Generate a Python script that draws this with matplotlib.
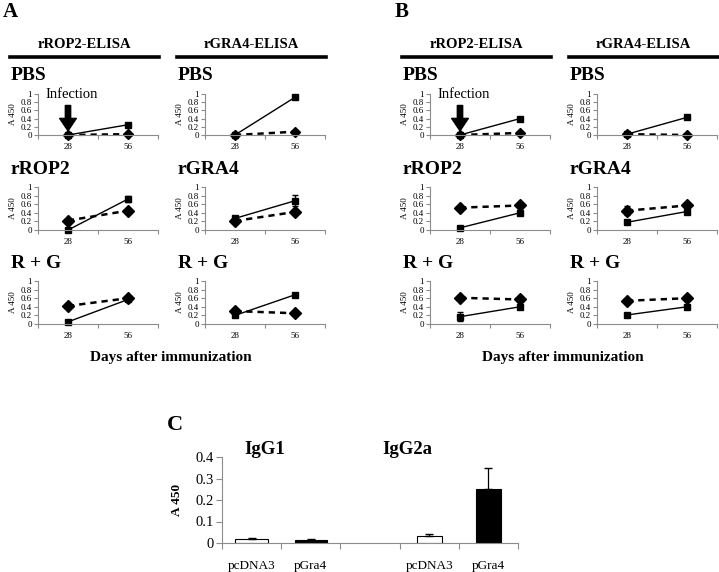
import numpy as np
import matplotlib
matplotlib.use("Agg")
import matplotlib.pyplot as plt
from matplotlib.lines import Line2D

# dados (A 450), linhas = PBS, imunizacao, R + G
days = ["28", "56"]
rows_rop2 = ["PBS", "rROP2", "R + G"]
rows_gra4 = ["PBS", "rGRA4", "R + G"]

# painel A, rROP2-ELISA
a_rop2_sq = [[0.0, 0.25], [0.0, 0.72], [0.05, 0.57]]
a_rop2_sq_err = [[0, 0], [0, 0.07], [0, 0]]
a_rop2_dm = [[0.0, 0.02], [0.22, 0.45], [0.42, 0.60]]
a_rop2_dm_err = [[0, 0], [0, 0], [0, 0]]
# painel A, rGRA4-ELISA
a_gra4_sq = [[0.0, 0.92], [0.27, 0.68], [0.20, 0.68]]
a_gra4_sq_err = [[0, 0], [0, 0.13], [0, 0]]
a_gra4_dm = [[0.0, 0.08], [0.21, 0.42], [0.30, 0.25]]
a_gra4_dm_err = [[0, 0], [0, 0], [0, 0]]
# painel B, rROP2-ELISA
b_rop2_sq = [[0.0, 0.40], [0.05, 0.40], [0.17, 0.40]]
b_rop2_sq_err = [[0, 0], [0, 0], [0.10, 0]]
b_rop2_dm = [[0.0, 0.05], [0.52, 0.57], [0.61, 0.57]]
b_rop2_dm_err = [[0, 0], [0, 0], [0, 0]]
# painel B, rGRA4-ELISA
b_gra4_sq = [[0.02, 0.43], [0.18, 0.43], [0.21, 0.40]]
b_gra4_sq_err = [[0, 0], [0, 0], [0, 0]]
b_gra4_dm = [[0.02, 0.0], [0.45, 0.57], [0.54, 0.60]]
b_gra4_dm_err = [[0, 0], [0.10, 0], [0, 0.07]]

# painel C
c_labels = ["pcDNA3", "pGra4", "", "pcDNA3", "pGra4"]
c_values = [0.020, 0.015, 0.0, 0.033, 0.250]
c_errors = [0.005, 0.003, 0.0, 0.008, 0.100]
c_groups = ["IgG1", "IgG2a"]

W, H = 719, 572
plt.rcParams["font.family"] = ["Liberation Serif", "DejaVu Serif"]
fig = plt.figure(figsize=(W / 100, H / 100), dpi=100)
GRAY = "#8c8c8c"


def fx(x):
    return x / W


def fy(y):
    return 1 - y / H


def add_ax(left, top, right, bottom):
    return fig.add_axes([fx(left), fy(bottom), (right - left) / W, (bottom - top) / H])


def small_panel(ax, sq, sq_err, dm, dm_err, row):
    x = np.array([0.5, 1.5])
    ms_sq = 4 if row == 0 else 5
    ms_dm = 5 if row == 0 else 6.5
    ax.plot(x, dm, color="k", lw=1.8, ls=(0, (2.5, 2)), marker="D", ms=ms_dm)
    ax.plot(x, sq, color="k", lw=1.0, marker="s", ms=ms_sq)
    for xi, yi, ei in zip(x, sq, sq_err):
        if ei > 0:
            ax.errorbar(xi, yi, yerr=ei, fmt="none", ecolor="k", elinewidth=1, capsize=2.5)
    for xi, yi, ei in zip(x, dm, dm_err):
        if ei > 0:
            ax.errorbar(xi, yi, yerr=ei, fmt="none", ecolor="k", elinewidth=1, capsize=2.5)
    ax.set_xlim(0, 2)
    ax.set_ylim(0, 1)
    ax.set_xticks([0, 1, 2])
    ax.set_xticklabels([])
    ax.set_xticks(x, minor=True)
    ax.set_xticklabels(days, minor=True, fontsize=6.5)
    ax.tick_params(axis="x", which="minor", length=0, pad=6)
    ax.tick_params(axis="x", which="major", length=3, color=GRAY, width=0.8)
    ax.set_yticks([0, 0.2, 0.4, 0.6, 0.8, 1.0])
    ax.set_yticklabels(["0", "0.2", "0.4", "0.6", "0.8", "1"], fontsize=6.5)
    ax.tick_params(axis="y", length=3, pad=1.5, color=GRAY, width=0.8)
    ax.set_ylabel("A 450", fontsize=6.5, labelpad=2.5)
    for s in ["top", "right"]:
        ax.spines[s].set_visible(False)
    for s in ["left", "bottom"]:
        ax.spines[s].set_color(GRAY)
        ax.spines[s].set_linewidth(0.8)
    for line in ax.lines:
        line.set_clip_on(False)


rows_px = [(94, 135), (187, 230), (281, 324)]
title_y = [75, 169, 263]

columns = [
    (38, "rROP2-ELISA", rows_rop2, a_rop2_sq, a_rop2_sq_err, a_rop2_dm, a_rop2_dm_err),
    (205, "rGRA4-ELISA", rows_gra4, a_gra4_sq, a_gra4_sq_err, a_gra4_dm, a_gra4_dm_err),
    (430, "rROP2-ELISA", rows_rop2, b_rop2_sq, b_rop2_sq_err, b_rop2_dm, b_rop2_dm_err),
    (597, "rGRA4-ELISA", rows_gra4, b_gra4_sq, b_gra4_sq_err, b_gra4_dm, b_gra4_dm_err),
]

for ci, (left, head, row_names, sq, sq_err, dm, dm_err) in enumerate(columns):
    # cabecalho com linha grossa
    x0, x1 = left - 28, left + 121
    fig.add_artist(Line2D([fx(x0), fx(x1)], [fy(57), fy(57)], color="k", lw=2.6))
    fig.text(fx((x0 + x1) / 2), fy(45), head, ha="center", va="center",
             fontsize=10.5, fontweight="bold")
    for r in range(3):
        top, bottom = rows_px[r]
        ax = add_ax(left, top, left + 120, bottom)
        small_panel(ax, sq[r], sq_err[r], dm[r], dm_err[r], r)
        fig.text(fx(left - 27), fy(title_y[r]), row_names[r], ha="left", va="center",
                 fontsize=14, fontweight="bold")
        if r == 0 and ci in (0, 2):
            ax.text(0.06, 1.0, "Infection", transform=ax.transAxes, ha="left",
                    va="center", fontsize=10.5)
            ax.annotate("", xy=(0.5, 0.1), xytext=(0.5, 0.72),
                        arrowprops=dict(arrowstyle="simple,head_width=1.0,head_length=0.75,tail_width=0.32",
                                        color="k", mutation_scale=12, shrinkA=0, shrinkB=0))

# letras e rotulo do eixo x
fig.text(fx(3), fy(12), "A", ha="left", va="center", fontsize=15, fontweight="bold")
fig.text(fx(395), fy(12), "B", ha="left", va="center", fontsize=15, fontweight="bold")
fig.text(fx(171), fy(358), "Days after immunization", ha="center", va="center",
         fontsize=11, fontweight="bold")
fig.text(fx(563), fy(358), "Days after immunization", ha="center", va="center",
         fontsize=11, fontweight="bold")

# painel C
axc = add_ax(222, 457, 518, 543)
xc = np.arange(len(c_values))
widths = [0.55, 0.55, 0.0, 0.42, 0.42]
colors = ["white", "black", "white", "white", "black"]
for xi, v, e, w, c in zip(xc, c_values, c_errors, widths, colors):
    if w == 0:
        continue
    axc.bar(xi, v, width=w, color=c, edgecolor="k", lw=0.8)
    axc.errorbar(xi, v, yerr=[[0], [e]], fmt="none", ecolor="k", elinewidth=0.9, capsize=3)
axc.set_xlim(-0.5, 4.5)
axc.set_ylim(0, 0.4)
axc.set_xticks(np.arange(-0.5, 5, 1))
axc.set_xticklabels([])
axc.set_xticks(xc, minor=True)
axc.set_xticklabels(c_labels, minor=True, fontsize=9.5)
axc.tick_params(axis="x", which="minor", length=0, pad=12)
axc.tick_params(axis="x", which="major", length=4, color=GRAY, width=0.8)
axc.set_yticks([0, 0.1, 0.2, 0.3, 0.4])
axc.set_yticklabels(["0", "0.1", "0.2", "0.3", "0.4"], fontsize=10.5)
axc.tick_params(axis="y", length=4, pad=2, color=GRAY, width=0.8)
for s in ["top", "right"]:
    axc.spines[s].set_visible(False)
for s in ["left", "bottom"]:
    axc.spines[s].set_color(GRAY)
    axc.spines[s].set_linewidth(0.8)
fig.text(fx(177), fy(500), "A 450", rotation=90, ha="center", va="center",
         fontsize=9.5, fontweight="bold")
fig.text(fx(167), fy(425), "C", ha="left", va="center", fontsize=16, fontweight="bold")
fig.text(fx(265), fy(450), c_groups[0], ha="center", va="center", fontsize=13.5, fontweight="bold")
fig.text(fx(407), fy(450), c_groups[1], ha="center", va="center", fontsize=13.5, fontweight="bold")

fig.savefig("out.png", dpi=100)
